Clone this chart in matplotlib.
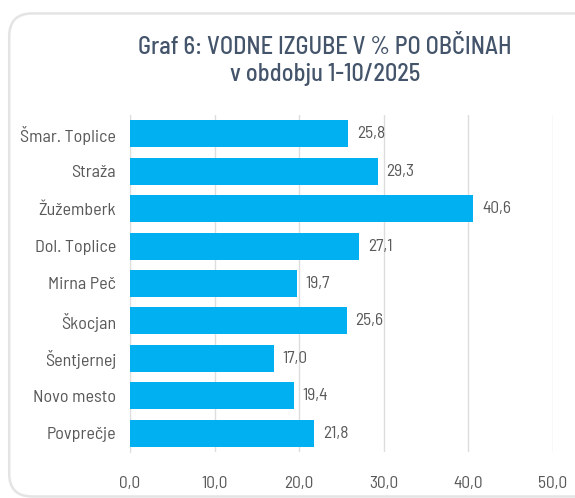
import matplotlib
matplotlib.use('Agg')
from matplotlib import pyplot as plt
from matplotlib.patches import FancyBboxPatch

# data
obcine = ['Šmar. Toplice', 'Straža', 'Žužemberk', 'Dol. Toplice', 'Mirna Peč',
          'Škocjan', 'Šentjernej', 'Novo mesto', 'Povprečje']
izgube = [25.8, 29.3, 40.6, 27.1, 19.7, 25.6, 17.0, 19.4, 21.8]
ticks = [0, 10, 20, 30, 40, 50]

plt.rcParams['font.family'] = ['Barlow Semi Condensed', 'DejaVu Sans']

fig = plt.figure(figsize=(5.75, 4.98), dpi=100)

# card outline behind everything
card = FancyBboxPatch((0.016, 0.003), 1.2, 0.97, boxstyle='round,pad=0,rounding_size=0.04',
                      transform=fig.transFigure, facecolor='white', edgecolor='#E4E4E4',
                      linewidth=1.8, mutation_aspect=575 / 498, zorder=-10)
fig.patches.append(card)

ax = fig.add_axes([0.226, 0.0924, 0.7357, 0.6767])
ax.patch.set_alpha(0)
y = list(range(len(obcine)))
ax.barh(y, izgube, height=0.72, color='#00B0F0', zorder=3)
for yi, v in zip(y, izgube):
    ax.text(v + 1.0, yi, f'{v:.1f}'.replace('.', ','), va='center', ha='left',
            fontsize=12.5, color='#595959')

ax.set_xlim(0, 50)
ax.set_ylim(len(obcine) - 0.5, -0.5)
ax.set_yticks(y)
ax.set_yticklabels(obcine, fontsize=13, color='#595959')
ax.set_xticks(ticks)
ax.set_xticklabels([f'{t:.1f}'.replace('.', ',') for t in ticks], fontsize=12.5, color='#595959')
ax.tick_params(length=0)
ax.tick_params(axis='x', pad=17)
ax.tick_params(axis='y', pad=10)
ax.grid(axis='x', color='#DDDDDD', linewidth=1, zorder=0)
for s in ['top', 'right', 'bottom']:
    ax.spines[s].set_visible(False)
ax.spines['left'].set_color('#DDDDDD')

fig.text(0.565, 0.905, 'Graf 6: VODNE IZGUBE V % PO OBČINAH', ha='center', va='center',
         fontsize=17.5, color='#44546A', fontweight='medium')
fig.text(0.565, 0.85, 'v obdobju 1-10/2025', ha='center', va='center',
         fontsize=17.5, color='#44546A', fontweight='medium')

fig.savefig('out.png', dpi=100)
